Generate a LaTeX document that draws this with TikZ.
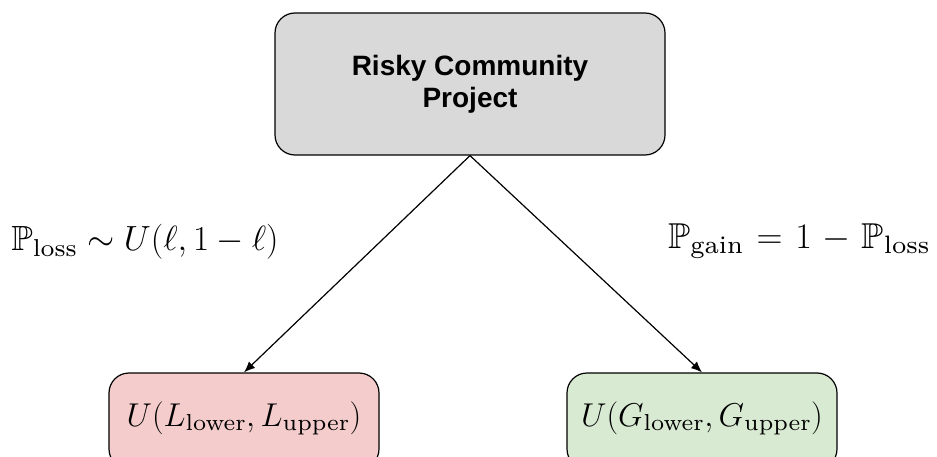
\RequirePackage{fix-cm}
\documentclass[tikz,border=0pt]{standalone}
\usepackage{amsmath,amssymb}
\DeclareFontFamily{U}{msb}{}
\DeclareFontShape{U}{msb}{m}{n}{<-6> msbm5 <6-8> msbm7 <8-> msbm10}{}
\usepackage{fontspec}
\newfontfamily\arialfam{Liberation Sans}
\newfontfamily\lmseven{lmroman7-regular.otf}
\newcommand{\subtxt}[1]{\text{\lmseven #1}}
\usetikzlibrary{arrows.meta}
\definecolor{boxgray}{HTML}{D9D9D9}
\definecolor{boxpink}{HTML}{F4CCCC}
\definecolor{boxgreen}{HTML}{D9EAD3}
\tikzset{
  basebox/.style={draw=black, line width=1.2pt, rounded corners=20pt, inner sep=0pt},
  topbox/.style={basebox, fill=boxgray, minimum width=390pt, minimum height=142pt,
    align=center, font=\arialfam\bfseries\fontsize{28}{32}\selectfont},
  leafbox/.style={basebox, minimum width=270pt, minimum height=96pt,
    text height=25pt, text depth=15pt, font=\fontsize{33}{40}\selectfont},
  problabel/.style={anchor=base, inner sep=0pt, font=\fontsize{35}{42}\selectfont},
  conn/.style={line width=1.2pt, -{Latex[length=11pt,width=9pt]}}
}
\begin{document}
\begin{tikzpicture}[x=1pt,y=-1pt]
\useasboundingbox (0,0) rectangle (937,457);
\clip (0,0) rectangle (937,457);
\node[topbox] (top) at (470,84) {Risky Community\\Project};
\node[leafbox, fill=boxpink] (loss) at (244,421) {$U(L_{\subtxt{lower}},L_{\subtxt{upper}})$};
\node[leafbox, fill=boxgreen] (gain) at (702,421) {$U(G_{\subtxt{lower}},G_{\subtxt{upper}})$};
\draw[conn] (top.south) -- (loss.north);
\draw[conn] (top.south) -- (gain.north);
\node[problabel] (pl) at (145,251) {$\mathbb{P}_{\subtxt{loss}}\sim U(\ell,1-\ell)$};
\node[problabel, font=\fontsize{36}{43}\selectfont] (pg) at (799,248) {$\mathbb{P}_{\subtxt{gain}}\mkern1.5mu=\mkern1.5mu 1\mkern1.5mu-\mkern1.5mu\mathbb{P}_{\subtxt{loss}}$};
\end{tikzpicture}
\end{document}
